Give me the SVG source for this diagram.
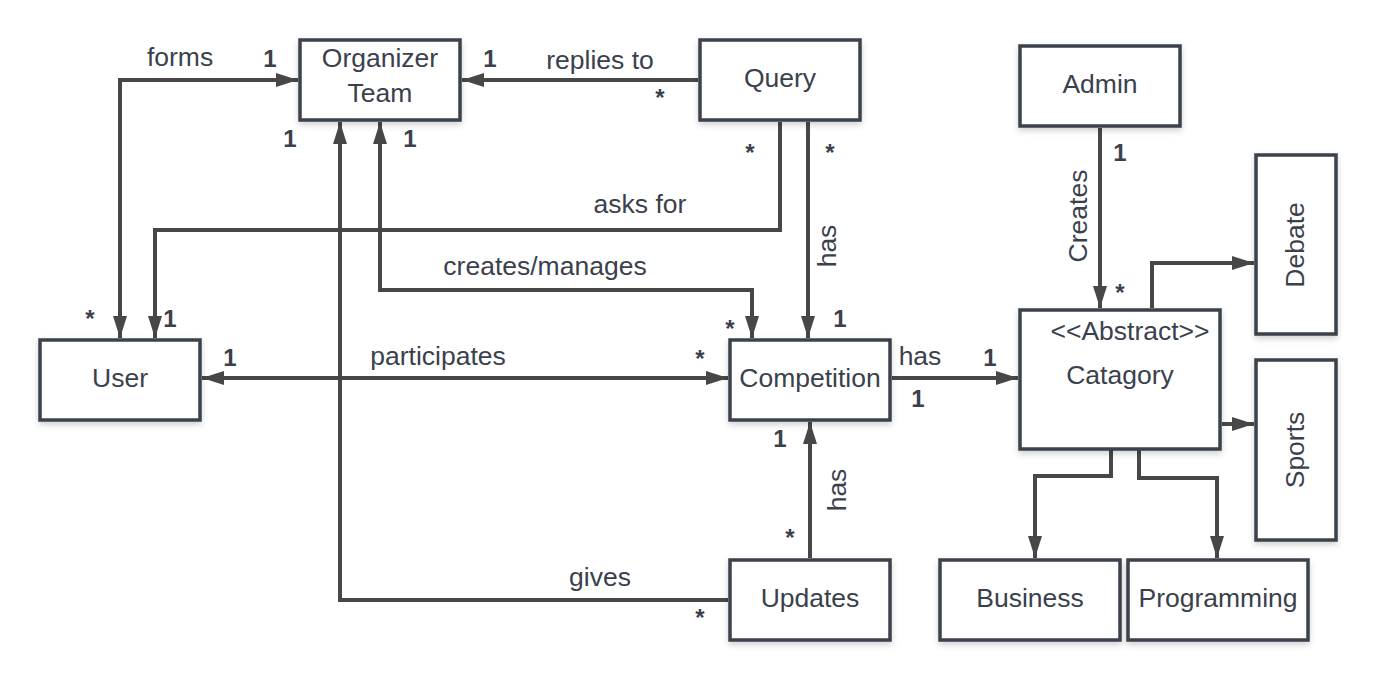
<svg xmlns="http://www.w3.org/2000/svg" width="1376" height="680" viewBox="0 0 1376 680">
<style>
.box{fill:#ffffff;stroke:#3a424c;stroke-width:3.5}
.t{font-family:"Liberation Sans",Arial,sans-serif;font-size:26.5px;fill:#3a414c;text-anchor:middle;dominant-baseline:central}
.m{font-family:"Liberation Sans",Arial,sans-serif;font-size:24px;font-weight:bold;fill:#3a414c;text-anchor:middle;dominant-baseline:central}
.c{fill:none;stroke:#474747;stroke-width:4}
</style>
<defs>
<filter id="sh" x="-20%" y="-20%" width="140%" height="140%">
<feDropShadow dx="0" dy="3" stdDeviation="3" flood-color="#000" flood-opacity="0.18"/>
</filter>
<marker id="a" viewBox="0 0 22 14" refX="22" refY="7" markerWidth="22" markerHeight="14" markerUnits="userSpaceOnUse" orient="auto-start-reverse">
<path d="M0,0 L22,7 L0,14 z" fill="#474747"/>
</marker>
</defs>
<g id="connectors">
<path class="c" d="M120,338 V80 H298" marker-start="url(#a)" marker-end="url(#a)"/>
<path class="c" d="M780,122 V230 H155 V338" marker-end="url(#a)"/>
<path class="c" d="M698,80 H462" marker-end="url(#a)"/>
<path class="c" d="M808,122 V338" marker-end="url(#a)"/>
<path class="c" d="M752,338 V290 H380 V122" marker-start="url(#a)" marker-end="url(#a)"/>
<path class="c" d="M728,600 H340 V122" marker-end="url(#a)"/>
<path class="c" d="M202,378 H728" marker-start="url(#a)" marker-end="url(#a)"/>
<path class="c" d="M892,378 H1018" marker-end="url(#a)"/>
<path class="c" d="M810,558 V422" marker-end="url(#a)"/>
<path class="c" d="M1100,128 V308" marker-end="url(#a)"/>
<path class="c" d="M1152,308 V263 H1254" marker-end="url(#a)"/>
<path class="c" d="M1222,424 H1254" marker-end="url(#a)"/>
<path class="c" d="M1111,450 V476 H1035 V558" marker-end="url(#a)"/>
<path class="c" d="M1139,450 V478 H1217 V558" marker-end="url(#a)"/>
<text class="t" x="180" y="57">forms</text>
<text class="t" x="600" y="60">replies to</text>
<text class="t" x="640" y="204">asks for</text>
<text class="t" x="545" y="266">creates/manages</text>
<text class="t" x="438" y="356">participates</text>
<text class="t" x="920" y="356">has</text>
<text class="t" x="600" y="577">gives</text>
<text class="t" transform="translate(827,246) rotate(-90)">has</text>
<text class="t" transform="translate(837,490) rotate(-90)">has</text>
<text class="t" transform="translate(1078,216) rotate(-90)">Creates</text>
<text class="m" x="270" y="58">1</text>
<text class="m" x="490" y="58">1</text>
<text class="m" x="290" y="138">1</text>
<text class="m" x="410" y="138">1</text>
<text class="m" x="1120" y="152">1</text>
<text class="m" x="170" y="318">1</text>
<text class="m" x="840" y="318">1</text>
<text class="m" x="230" y="357">1</text>
<text class="m" x="990" y="357">1</text>
<text class="m" x="918" y="398">1</text>
<text class="m" x="780" y="438">1</text>
<text class="m" x="660" y="97">*</text>
<text class="m" x="750" y="152">*</text>
<text class="m" x="830" y="152">*</text>
<text class="m" x="90" y="318">*</text>
<text class="m" x="730" y="328">*</text>
<text class="m" x="700" y="358">*</text>
<text class="m" x="1120" y="292">*</text>
<text class="m" x="790" y="537">*</text>
<text class="m" x="700" y="617">*</text>
</g>
<g id="organizer-team"><rect class="box" filter="url(#sh)" x="300" y="40" width="160" height="80"/><text class="t" x="380" y="58">Organizer</text><text class="t" x="380" y="93">Team</text></g>
<g id="query"><rect class="box" filter="url(#sh)" x="700" y="40" width="160" height="80"/><text class="t" x="780" y="78">Query</text></g>
<g id="admin"><rect class="box" filter="url(#sh)" x="1020" y="46" width="160" height="80"/><text class="t" x="1100" y="84">Admin</text></g>
<g id="debate"><rect class="box" filter="url(#sh)" x="1256" y="155" width="80" height="179"/><text class="t" transform="translate(1295,245) rotate(-90)">Debate</text></g>
<g id="user"><rect class="box" filter="url(#sh)" x="40" y="340" width="160" height="80"/><text class="t" x="120" y="378">User</text></g>
<g id="competition"><rect class="box" filter="url(#sh)" x="730" y="340" width="160" height="80"/><text class="t" x="810" y="378">Competition</text></g>
<g id="category"><rect class="box" filter="url(#sh)" x="1020" y="310" width="200" height="139"/><text class="t" x="1130" y="331">&lt;&lt;Abstract&gt;&gt;</text><text class="t" x="1120" y="375">Catagory</text></g>
<g id="sports"><rect class="box" filter="url(#sh)" x="1256" y="360" width="80" height="180"/><text class="t" transform="translate(1295,450) rotate(-90)">Sports</text></g>
<g id="updates"><rect class="box" filter="url(#sh)" x="730" y="560" width="160" height="80"/><text class="t" x="810" y="598">Updates</text></g>
<g id="business"><rect class="box" filter="url(#sh)" x="940" y="560" width="180" height="80"/><text class="t" x="1030" y="598">Business</text></g>
<g id="programming"><rect class="box" filter="url(#sh)" x="1128" y="560" width="180" height="80"/><text class="t" x="1218" y="598">Programming</text></g>
</svg>
